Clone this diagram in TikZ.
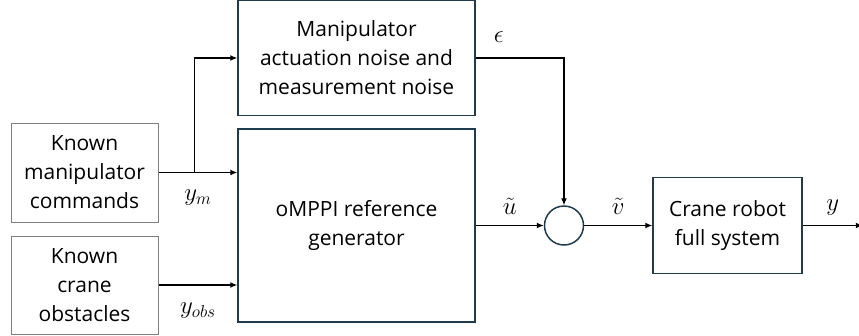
\documentclass[tikz,border=0pt]{standalone}
\usepackage{fontspec}
\setmainfont{Open Sans}
\usetikzlibrary{arrows.meta, positioning, calc}
\definecolor{blockline}{HTML}{1F3B4D}
\definecolor{inputline}{HTML}{808080}
\tikzset{
  inputbox/.style={
    draw=inputline, line width=1pt, minimum width=147pt,
    align=center, inner sep=0pt
  },
  blockbox/.style={
    draw=blockline, line width=1.5pt,
    align=center, inner sep=0pt
  },
  sumnode/.style={circle, draw=blockline, line width=1.5pt, minimum size=39pt, inner sep=0pt},
  sigarrow/.style={-{Latex[length=7pt, width=6pt]}, line width=1.2pt, color=black},
  siglabel/.style={font=\fontsize{27}{30}\selectfont, inner sep=1pt}
}
\begin{document}
\begin{tikzpicture}[x=1pt, y=-1pt, font=\fontsize{21}{29}\selectfont]
    \useasboundingbox (0,0) rectangle (859,335);

    % Known inputs
    \node[inputbox, minimum height=99pt] (cmd) at (84.5,172.5) {Known\\manipulator\\commands};
    \node[inputbox, minimum height=98pt, below=13pt of cmd] (obs) {Known\\crane\\obstacles};

    % Blocks
    \node[blockbox, minimum width=237pt, minimum height=193pt] (ref) at (356.5,225.5) {oMPPI reference\\generator};
    \node[blockbox, minimum width=237pt, minimum height=115pt, above=12pt of ref] (noise) {Manipulator\\actuation noise and\\measurement noise};
    \node[sumnode, right=68pt of ref] (sum) {};
    \node[blockbox, minimum width=149pt, minimum height=96pt, right=68pt of sum] (crane) {Crane robot\\full system};
    \coordinate (out) at ($(crane.east)+(60,0)$);

    % Signals
    \coordinate (split) at ($(cmd.east)+(36,0)$);
    \draw[sigarrow] (cmd.east) -- node[siglabel, below=16pt]{$y_m$} (cmd.east -| ref.west);
    \draw[sigarrow] (split) |- (noise.west);
    \draw[sigarrow] (obs.east) -- node[siglabel, below=16pt]{$y_{obs}$} (obs.east -| ref.west);
    \draw[sigarrow] (noise.east) -| node[siglabel, pos=0.13, above=14pt]{$\epsilon$} (sum.north);
    \draw[sigarrow] (ref.east |- sum) -- node[siglabel, above=9pt]{$\tilde{u}$} (sum.west);
    \draw[sigarrow] (sum.east) -- node[siglabel, above=9pt]{$\tilde{v}$} (crane.west);
    \draw[sigarrow] (crane.east) -- node[siglabel, above=9pt]{$y$} (out);
\end{tikzpicture}
\end{document}
